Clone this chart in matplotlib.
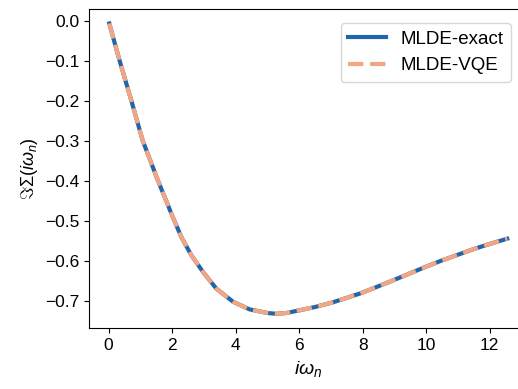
import matplotlib
matplotlib.use("Agg")
import matplotlib.pyplot as plt

plt.rcParams['font.family'] = ['Liberation Sans', 'DejaVu Sans']
plt.rcParams['mathtext.fontset'] = 'custom'
plt.rcParams['mathtext.rm'] = 'Liberation Sans'
plt.rcParams['mathtext.it'] = 'Liberation Sans:italic'

# values
omega_n = [0.02, 0.34, 0.71, 1.07, 1.55, 2.02, 2.29, 2.60, 2.97, 3.39, 3.92, 4.44,
           5.00, 5.28, 5.60, 6.02, 6.50, 7.07, 7.50, 7.92, 8.34, 8.90, 9.39, 9.90,
           10.44, 11.00, 11.49, 12.00, 12.55]
sigma_exact = [-0.006, -0.098, -0.198, -0.299, -0.399, -0.491, -0.541, -0.586, -0.628,
               -0.670, -0.703, -0.722, -0.731, -0.733, -0.731, -0.724, -0.716, -0.704,
               -0.693, -0.682, -0.669, -0.651, -0.635, -0.618, -0.601, -0.585, -0.571,
               -0.558, -0.545]
sigma_vqe = list(sigma_exact)

fig = plt.figure(figsize=(5.18, 3.89), dpi=100)
ax = fig.add_axes([0.1726, 0.156, 0.845, 0.821])

ax.plot(omega_n, sigma_exact, color='#2166ac', lw=3, label='MLDE-exact')
ax.plot(omega_n, sigma_vqe, color='#f4a582', lw=3, ls='--', label='MLDE-VQE')

ax.set_xticks([0, 2, 4, 6, 8, 10, 12])
ax.set_yticks([0.0, -0.1, -0.2, -0.3, -0.4, -0.5, -0.6, -0.7])
ax.tick_params(labelsize=12.5)
ax.set_xlabel(r'$i\omega_n$', fontsize=14)
ax.set_ylabel(r'$\Im\Sigma(i\omega_n)$', fontsize=13)
ax.legend(fontsize=13.5, loc='upper right', bbox_to_anchor=(0.985, 0.985))

fig.savefig('out.png', dpi=100)
